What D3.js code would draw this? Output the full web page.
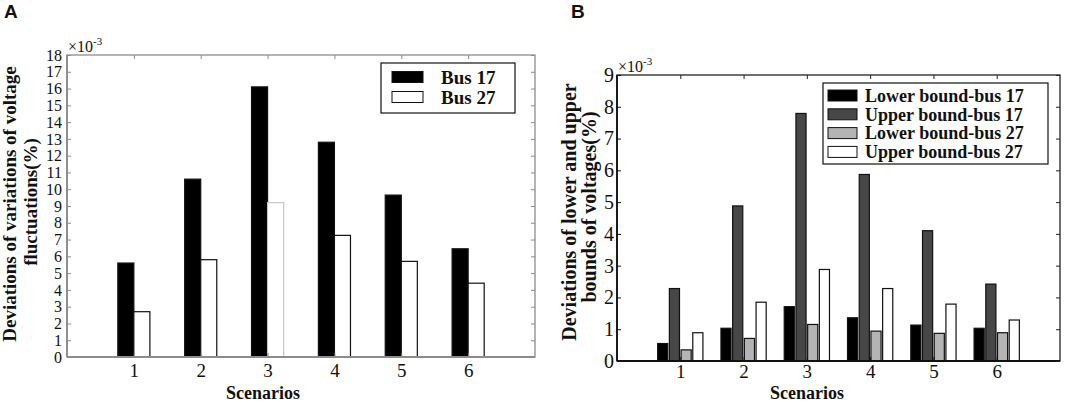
<!DOCTYPE html>
<html><head><meta charset="utf-8">
<script src="https://cdn.jsdelivr.net/npm/d3@7"></script>
<style>body{margin:0;background:#fff}svg{display:block}</style></head>
<body><svg id="c" width="1065" height="403"></svg>
<script>
// ---- data ----
const scenarios = [1, 2, 3, 4, 5, 6];
const seriesA = ["Bus 17", "Bus 27"];
const bus17 = [5.6, 10.6, 16.1, 12.8, 9.65, 6.45];
const bus27 = [2.7, 5.8, 9.2, 7.25, 5.7, 4.4];
const ticksA = d3.range(0, 19);
const seriesB = ["Lower bound-bus 17", "Upper bound-bus 17", "Lower bound-bus 27", "Upper bound-bus 27"];
const lower17 = [0.55, 1.03, 1.71, 1.36, 1.13, 1.03];
const upper17 = [2.28, 4.88, 7.79, 5.87, 4.10, 2.42];
const lower27 = [0.35, 0.71, 1.15, 0.94, 0.87, 0.89];
const upper27 = [0.89, 1.85, 2.88, 2.28, 1.79, 1.29];
const ticksB = d3.range(0, 10);
const titleA = ["Deviations of variations of voltage", "fluctuations(%)"];
const titleB = ["Deviations of lower and upper", "bounds of voltages(%)"];

const SERIF = "'Liberation Serif','Times New Roman',serif";
const SANS = "'Liberation Sans',Arial,sans-serif";
const svg = d3.select("#c");

function panel(o) {
  const g = svg.append("g");
  const x = d3.scaleLinear().domain([0, 7]).range([o.x0, o.x1]);
  const y = d3.scaleLinear().domain([0, o.ymax]).range([o.yb, o.yt]);
  const n = o.series.length;
  // bars
  o.values.forEach((vals, si) => {
    const off = (si - (n - 1) / 2) * o.step;
    g.append("g").selectAll("rect").data(vals).join("rect")
      .attr("x", (d, i) => x(scenarios[i] + off - o.bw / 2))
      .attr("width", x(o.bw) - x(0))
      .attr("y", d => y(d))
      .attr("height", d => y(0) - y(d))
      .attr("fill", o.fills[si])
      .attr("stroke", (d, i) => o.strokeFn ? o.strokeFn(si, i) : "#111")
      .attr("stroke-width", 1.2);
  });
  // frame
  g.append("rect").attr("x", o.x0).attr("y", o.yt).attr("width", o.x1 - o.x0).attr("height", o.yb - o.yt)
    .attr("fill", "none").attr("stroke", o.frame).attr("stroke-width", 1.3);
  g.append("line").attr("x1", o.x0).attr("x2", o.x1).attr("y1", o.yb).attr("y2", o.yb)
    .attr("stroke", o.axis).attr("stroke-width", 1.8);
  g.append("line").attr("x1", o.x0).attr("x2", o.x0).attr("y1", o.yb).attr("y2", o.yt)
    .attr("stroke", o.axis).attr("stroke-width", 1.8);
  // y axis (left) with inward ticks
  const ay = g.append("g").attr("transform", `translate(${o.x0},0)`)
    .call(d3.axisLeft(y).tickValues(o.ticks).tickSize(-4).tickPadding(o.yPad).tickFormat(d3.format("d")));
  ay.select(".domain").remove();
  ay.selectAll("line").attr("stroke", o.axis);
  ay.selectAll("text").attr("font-family", SERIF).attr("font-size", o.tickFont).attr("fill", "#111");
  // right ticks
  const ar = g.append("g").attr("transform", `translate(${o.x1},0)`)
    .call(d3.axisRight(y).tickValues(o.ticks).tickSize(-4).tickFormat(""));
  ar.select(".domain").remove();
  ar.selectAll("line").attr("stroke", o.frame);
  // x axis bottom
  const ax = g.append("g").attr("transform", `translate(0,${o.yb})`)
    .call(d3.axisBottom(x).tickValues(scenarios).tickSize(-4).tickPadding(o.xPad).tickFormat(d3.format("d")));
  ax.select(".domain").remove();
  ax.selectAll("line").attr("stroke", o.axis);
  ax.selectAll("text").attr("font-family", SERIF).attr("font-size", o.catFont).attr("fill", "#111");
  // top ticks
  const at = g.append("g").attr("transform", `translate(0,${o.yt})`)
    .call(d3.axisTop(x).tickValues(scenarios).tickSize(-4).tickFormat(""));
  at.select(".domain").remove();
  at.selectAll("line").attr("stroke", o.frame);
  // exponent
  const ex = g.append("text").attr("x", o.x0 + 1).attr("y", o.yt - 3)
    .attr("font-family", SERIF).attr("font-size", 16).attr("fill", "#111");
  ex.append("tspan").text("×10");
  ex.append("tspan").attr("dy", -7).attr("font-size", 11).text("-3");
  // x label
  g.append("text").attr("x", o.xlabX).attr("y", 399).attr("text-anchor", "middle")
    .attr("font-family", SERIF).attr("font-weight", "bold").attr("font-size", 18).attr("fill", "#111")
    .text("Scenarios");
  // y title
  o.title.forEach((t, k) => {
    g.append("text")
      .attr("transform", `translate(${o.titleX[k]},${o.titleY[k]}) rotate(-90)`)
      .attr("text-anchor", "middle").attr("font-family", SERIF).attr("font-weight", "bold")
      .attr("font-size", o.titleFont).attr("fill", "#111").text(t);
  });
  // panel letter
  g.append("text").attr("x", o.letterX).attr("y", 18).attr("font-family", SANS).attr("font-weight", "bold")
    .attr("font-size", 19).attr("fill", "#111").text(o.letter);
  // legend
  const L = o.legend;
  const lg = g.append("g");
  lg.append("rect").attr("x", L.x).attr("y", L.y).attr("width", L.w).attr("height", L.h)
    .attr("fill", "#fff").attr("stroke", "#111").attr("stroke-width", 1.2);
  o.series.forEach((s, i) => {
    const cy = L.y + L.first + i * L.row;
    lg.append("rect").attr("x", L.sx).attr("y", cy - L.sh / 2).attr("width", L.sw).attr("height", L.sh)
      .attr("fill", o.fills[i]).attr("stroke", "#111").attr("stroke-width", 1);
    lg.append("text").attr("x", L.tx).attr("y", cy).attr("dy", "0.35em")
      .attr("font-family", SERIF).attr("font-weight", "bold").attr("font-size", L.font).attr("fill", "#111").text(s);
  });
}

panel({
  x0: 67, x1: 535, yt: 55, yb: 357, ymax: 18, ticks: ticksA,
  series: seriesA, values: [bus17, bus27], fills: ["#000", "#fff"],
  strokeFn: (si, i) => (si === 1 && i === 2) ? "#c8c8c8" : "#111",
  bw: 0.24, step: 0.24, frame: "#8c8c8c", axis: "#8c8c8c",
  tickFont: 16, yPad: 5, xPad: 7, catFont: 19, xlabX: 263,
  title: titleA, titleX: [16, 37], titleY: [204, 202], titleFont: 19,
  letter: "A", letterX: 4,
  legend: { x: 381, y: 63, w: 134, h: 50, first: 14, row: 20, sx: 392, sw: 31, sh: 11, tx: 441, font: 19 }
});
panel({
  x0: 617, x1: 1060, yt: 75, yb: 361, ymax: 9, ticks: ticksB,
  series: seriesB, values: [lower17, upper17, lower27, upper27],
  fills: ["#000", "#474747", "#b4b4b4", "#fff"],
  bw: 0.16, step: 0.185, frame: "#222", axis: "#111",
  tickFont: 20, yPad: 3, xPad: 4, catFont: 19, xlabX: 807,
  title: titleB, titleX: [576, 596], titleY: [212, 207], titleFont: 20,
  letter: "B", letterX: 571,
  legend: { x: 823, y: 83, w: 225, h: 81, first: 12.5, row: 18.8, sx: 828, sw: 29, sh: 11, tx: 865, font: 18 }
});
</script></body></html>
